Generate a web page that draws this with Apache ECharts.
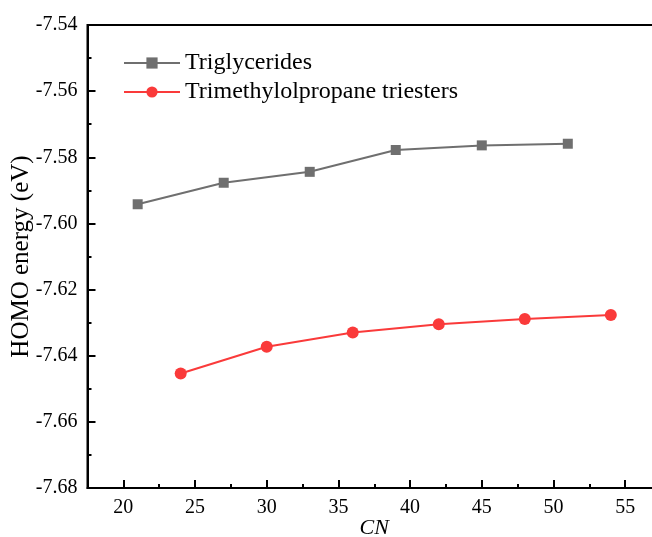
<!DOCTYPE html>
<html>
<head>
<meta charset="utf-8">
<script src="https://cdn.jsdelivr.net/npm/echarts@6/dist/echarts.min.js"></script>
<style>html,body{margin:0;padding:0;background:#fff}#c{width:652px;height:537px}</style>
</head>
<body>
<div id="c"></div>
<script>
var tgCN = [21, 27, 33, 39, 45, 51];
var tgHOMO = [-7.5942, -7.5877, -7.5844, -7.5778, -7.5764, -7.5759];
var tmpCN = [24, 30, 36, 42, 48, 54];
var tmpHOMO = [-7.6454, -7.6373, -7.6330, -7.6305, -7.6289, -7.6277];
var xMajorTicks = [20, 25, 30, 35, 40, 45, 50, 55];
var xMinorTicks = [22.5, 27.5, 32.5, 37.5, 42.5, 47.5, 52.5, 57.5];

var FONT = '"Liberation Serif", "Times New Roman", serif';
var chart = echarts.init(document.getElementById('c'));
function pairs(xs, ys) { return xs.map(function (x, i) { return [x, ys[i]]; }); }

chart.setOption({
  backgroundColor: '#fff',
  animation: false,
  grid: { left: 87.5, top: 25, bottom: 49, right: -9, show: true, borderColor: '#000', borderWidth: 2, outerBoundsMode: 'none', containLabel: false },
  legend: {
    left: 118, top: 46, orient: 'vertical', itemWidth: 56, itemHeight: 14, itemGap: 5,
    textStyle: { fontFamily: FONT, fontSize: 24, color: '#000' },
    data: ['Triglycerides', 'Trimethylolpropane triesters']
  },
  xAxis: [{
    type: 'value', min: 17.5, max: 57.5,
    name: 'CN', nameLocation: 'middle', nameGap: 29, nameMoveOverlap: false,
    nameTextStyle: { fontFamily: FONT, fontSize: 22, fontStyle: 'italic', color: '#000' },
    axisLine: { show: true, lineStyle: { color: '#000', width: 2 } },
    axisTick: { show: true, inside: true, length: 8, lineStyle: { color: '#000', width: 2 }, customValues: xMajorTicks },
    axisLabel: { fontFamily: FONT, fontSize: 20, color: '#000', margin: 10, customValues: xMajorTicks },
    splitLine: { show: false }
  }, {
    type: 'value', min: 17.5, max: 57.5, position: 'bottom',
    axisLine: { show: false },
    axisTick: { show: true, inside: true, length: 4, lineStyle: { color: '#000', width: 2 }, customValues: xMinorTicks },
    axisLabel: { show: false },
    splitLine: { show: false }
  }],
  yAxis: {
    type: 'value', min: -7.68, max: -7.54, interval: 0.02,
    name: 'HOMO energy (eV)', nameLocation: 'middle', nameGap: 54, nameMoveOverlap: false,
    nameTextStyle: { fontFamily: FONT, fontSize: 25, color: '#000' },
    axisLine: { show: true, lineStyle: { color: '#000', width: 2 } },
    axisTick: { show: true, inside: true, length: 8, lineStyle: { color: '#000', width: 2 } },
    minorTick: { show: true, splitNumber: 2, length: 4, lineStyle: { color: '#000', width: 2 } },
    axisLabel: { fontFamily: FONT, fontSize: 20, color: '#000', margin: 10, formatter: function (v) { return v.toFixed(2); } },
    splitLine: { show: false }
  },
  series: [{
    name: 'Triglycerides', type: 'line', xAxisIndex: 0,
    data: pairs(tgCN, tgHOMO),
    symbol: 'rect', symbolSize: 10,
    itemStyle: { color: '#6f6f6f' },
    lineStyle: { color: '#6f6f6f', width: 2 }
  }, {
    name: 'Trimethylolpropane triesters', type: 'line', xAxisIndex: 0,
    data: pairs(tmpCN, tmpHOMO),
    symbol: 'circle', symbolSize: 12,
    itemStyle: { color: '#fa3a3a' },
    lineStyle: { color: '#fa3a3a', width: 2 }
  }]
});
</script>
</body>
</html>
